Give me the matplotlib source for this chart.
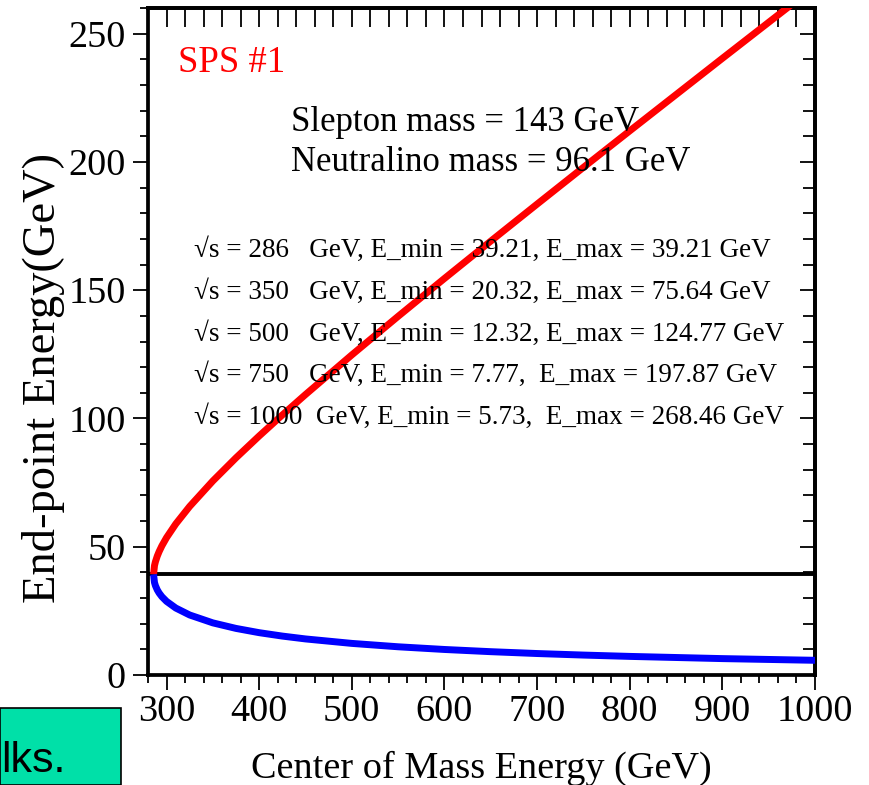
import numpy as np
import matplotlib
matplotlib.use("Agg")
import matplotlib.pyplot as plt
from matplotlib.ticker import MultipleLocator
from matplotlib.patches import Rectangle

# centre of mass energy (GeV) and end-point energies
sqrt_s = [286, 287, 288, 290, 292, 295, 300, 310, 325, 350, 375, 400, 425,
          450, 500, 550, 600, 650, 700, 750, 800, 900, 1000]
e_max = [39.21, 42.63, 44.13, 46.34, 48.10, 50.36, 53.54, 58.90, 65.72, 75.64,
         84.66, 93.17, 101.36, 109.32, 124.77, 139.81, 154.57, 169.13, 183.55,
         197.87, 212.10, 240.37, 268.46]
e_min = [39.21, 36.06, 34.84, 33.18, 31.96, 30.53, 28.71, 26.10, 23.39, 20.32,
         18.16, 16.50, 15.17, 14.06, 12.32, 11.00, 9.95, 9.09, 8.37,
         7.77, 7.25, 6.39, 5.73]
threshold = 39.21

table_lines = [
    "\u221as = 286   GeV, E_min = 39.21, E_max = 39.21 GeV",
    "\u221as = 350   GeV, E_min = 20.32, E_max = 75.64 GeV",
    "\u221as = 500   GeV, E_min = 12.32, E_max = 124.77 GeV",
    "\u221as = 750   GeV, E_min = 7.77,  E_max = 197.87 GeV",
    "\u221as = 1000  GeV, E_min = 5.73,  E_max = 268.46 GeV",
]

plt.rcParams['font.family'] = ['Liberation Serif', 'DejaVu Serif']

W, H = 869, 785
fig = plt.figure(figsize=(W / 100, H / 100), dpi=100)
ax = fig.add_axes([148 / W, 1 - 675 / H, (815 - 148) / W, (675 - 8) / H])

ax.plot(sqrt_s, e_max, color='#ff0000', lw=5, solid_capstyle='butt', zorder=3)
ax.plot(sqrt_s, e_min, color='#0000ff', lw=5, solid_capstyle='butt', zorder=3)
ax.axhline(threshold, color='black', lw=2.8, zorder=2)

ax.set_xlim(280, 1000)
ax.set_ylim(0, 260)
ax.xaxis.set_major_locator(MultipleLocator(100))
ax.xaxis.set_minor_locator(MultipleLocator(20))
ax.yaxis.set_major_locator(MultipleLocator(50))
ax.yaxis.set_minor_locator(MultipleLocator(10))
ax.tick_params(which='major', direction='out', length=11, width=1.3,
               labelsize=27.5, pad=3)
ax.tick_params(which='minor', direction='out', length=5.5, width=1.3)
ax.tick_params(axis='y', which='major', pad=5)
for sp in ax.spines.values():
    sp.set_linewidth(2.7)

# inward ticks on top and right
top = ax.secondary_xaxis('top')
top.xaxis.set_major_locator(MultipleLocator(100))
top.xaxis.set_minor_locator(MultipleLocator(20))
top.tick_params(which='both', direction='in', length=14, width=1.3, labeltop=False)
top.spines['top'].set_linewidth(2.7)
right = ax.secondary_yaxis('right')
right.yaxis.set_major_locator(MultipleLocator(50))
right.yaxis.set_minor_locator(MultipleLocator(10))
right.tick_params(which='major', direction='in', length=11, width=1.3, labelright=False)
right.tick_params(which='minor', direction='in', length=9, width=1.3)
right.spines['right'].set_linewidth(2.7)

ax.text(312, 235, "SPS #1", color='#ff0000', fontsize=26.5)
ax.text(434, 212, "Slepton mass = 143 GeV", fontsize=25)
ax.text(434, 196.5, "Neutralino mass = 96.1 GeV", fontsize=25)
for i, line in enumerate(table_lines):
    ax.text(330, 163 - i * 16.3, line, fontsize=19.5)

fig.text(481 / W, 1 - 778 / H, "Center of Mass Energy (GeV)", fontsize=27.5,
         ha='center', va='baseline')
fig.text(55 / W, 1 - 378 / H, "End-point Energy(GeV)", fontsize=33.5,
         rotation=90, rotation_mode='anchor', ha='center', va='baseline')

# cropped slide element in the corner
fig.patches.append(Rectangle((0, 0), 121 / W, (785 - 708) / H, transform=fig.transFigure,
                             facecolor='#00e0a8', edgecolor='black', lw=1.2))
fig.text(1 / W, 1 - 772 / H, "lks.", fontsize=31, family='Liberation Sans',
         ha='left', va='baseline')

fig.savefig("out.png", dpi=100)
